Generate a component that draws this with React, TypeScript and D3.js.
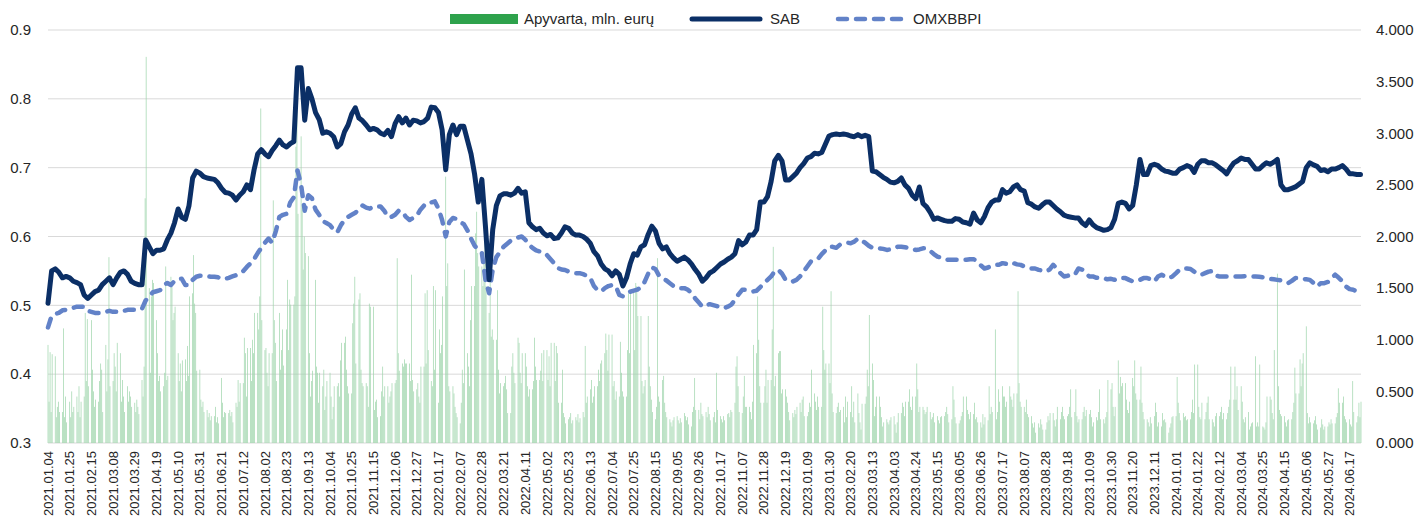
import React, { useEffect } from "react";
import * as d3 from "d3";

// Axis / calendar
const START = Date.UTC(2021, 0, 4);
const END = Date.UTC(2024, 5, 28);
const DAY = 86400000;
const tickStepDays = 21;
const leftTicks = [0.3, 0.4, 0.5, 0.6, 0.7, 0.8, 0.9];
const rightTicks = [0, 0.5, 1, 1.5, 2, 2.5, 3, 3.5, 4];

// SAB price, two readings per week (Mon, Thu), left axis
const sab = [
  0.503, 0.55, 0.553, 0.548, 0.54, 0.542, 0.54, 0.535, 0.533, 0.53, 0.515, 0.51, 0.515, 0.52, 0.522, 0.53, 0.535, 0.54, 0.53, 0.54,
  0.548, 0.55, 0.545, 0.535, 0.532, 0.53, 0.53, 0.595, 0.585, 0.575, 0.58, 0.58, 0.582, 0.595, 0.605, 0.62, 0.64, 0.628, 0.625, 0.645,
  0.685, 0.695, 0.692, 0.687, 0.685, 0.684, 0.683, 0.678, 0.67, 0.664, 0.663, 0.66, 0.653, 0.66, 0.665, 0.675, 0.668, 0.697, 0.72, 0.726,
  0.72, 0.716, 0.725, 0.732, 0.74, 0.733, 0.73, 0.735, 0.738, 0.845, 0.845, 0.769, 0.815, 0.8, 0.78, 0.77, 0.75, 0.752, 0.75, 0.745,
  0.73, 0.735, 0.752, 0.762, 0.778, 0.787, 0.772, 0.768, 0.762, 0.755, 0.757, 0.755, 0.75, 0.748, 0.754, 0.745, 0.764, 0.774, 0.765, 0.772,
  0.762, 0.769, 0.768, 0.765, 0.767, 0.772, 0.788, 0.787, 0.78, 0.755, 0.697, 0.748, 0.762, 0.748, 0.76, 0.76, 0.74, 0.72, 0.69, 0.65,
  0.683, 0.614, 0.537, 0.61, 0.645, 0.659, 0.662, 0.662, 0.66, 0.663, 0.67, 0.663, 0.665, 0.62, 0.614, 0.61, 0.612, 0.605, 0.601, 0.603,
  0.597, 0.598, 0.605, 0.614, 0.612, 0.605, 0.602, 0.602, 0.6, 0.596, 0.59, 0.578, 0.572, 0.56, 0.553, 0.55, 0.543, 0.55, 0.545, 0.528,
  0.54, 0.56, 0.575, 0.573, 0.585, 0.588, 0.603, 0.615, 0.608, 0.59, 0.582, 0.585, 0.575, 0.569, 0.564, 0.567, 0.57, 0.566, 0.56, 0.552,
  0.545, 0.535, 0.54, 0.547, 0.55, 0.555, 0.56, 0.563, 0.567, 0.57, 0.575, 0.594, 0.588, 0.592, 0.602, 0.602, 0.61, 0.65, 0.65, 0.658,
  0.68, 0.71, 0.718, 0.71, 0.682, 0.682, 0.687, 0.692, 0.7, 0.706, 0.714, 0.716, 0.721, 0.72, 0.722, 0.734, 0.746, 0.748, 0.749, 0.748,
  0.749, 0.748, 0.746, 0.745, 0.748, 0.745, 0.747, 0.745, 0.695, 0.694, 0.69, 0.686, 0.683, 0.679, 0.678, 0.68, 0.685, 0.675, 0.67, 0.66,
  0.655, 0.672, 0.648, 0.643, 0.635, 0.625, 0.627, 0.625, 0.623, 0.622, 0.622, 0.626, 0.625, 0.621, 0.62, 0.618, 0.634, 0.624, 0.62, 0.629,
  0.642, 0.65, 0.653, 0.653, 0.668, 0.663, 0.665, 0.672, 0.675, 0.668, 0.666, 0.649, 0.647, 0.643, 0.641, 0.646, 0.65, 0.65, 0.645, 0.64,
  0.636, 0.631, 0.629, 0.628, 0.627, 0.627, 0.62, 0.616, 0.624, 0.617, 0.613, 0.611, 0.609, 0.61, 0.613, 0.625, 0.648, 0.65, 0.648, 0.64,
  0.645, 0.675, 0.712, 0.69, 0.69, 0.703, 0.705, 0.703, 0.698, 0.695, 0.694, 0.692, 0.692, 0.698, 0.7, 0.703, 0.701, 0.693, 0.705, 0.71,
  0.71, 0.707, 0.707, 0.704, 0.7, 0.696, 0.691, 0.7, 0.707, 0.71, 0.714, 0.712, 0.712, 0.705, 0.698, 0.698, 0.703, 0.707, 0.705, 0.708,
  0.712, 0.675, 0.668, 0.668, 0.67, 0.672, 0.676, 0.68, 0.7, 0.707, 0.704, 0.702, 0.696, 0.697, 0.694, 0.698, 0.698, 0.7, 0.703, 0.698,
  0.691, 0.691, 0.69, 0.69,
];

// OMXBBPI, same dates, right axis units
const omx = [
  1.12, 1.23, 1.25, 1.26, 1.285, 1.29, 1.3, 1.31, 1.32, 1.32, 1.32, 1.28, 1.27, 1.26, 1.26, 1.26, 1.27, 1.28, 1.27, 1.27,
  1.27, 1.28, 1.29, 1.29, 1.29, 1.29, 1.3, 1.38, 1.42, 1.46, 1.47, 1.48, 1.53, 1.55, 1.53, 1.57, 1.59, 1.59, 1.53, 1.53,
  1.58, 1.61, 1.62, 1.62, 1.615, 1.61, 1.61, 1.605, 1.59, 1.59, 1.6, 1.613, 1.625, 1.645, 1.665, 1.705, 1.74, 1.78, 1.84, 1.89,
  1.94, 1.98, 1.94, 2.05, 2.19, 2.21, 2.22, 2.33, 2.38, 2.64, 2.5, 2.25, 2.4, 2.37, 2.26, 2.21, 2.15, 2.13, 2.11, 2.065,
  2.04, 2.11, 2.16, 2.19, 2.21, 2.23, 2.26, 2.3, 2.28, 2.27, 2.29, 2.29, 2.29, 2.25, 2.19, 2.19, 2.21, 2.25, 2.24, 2.19,
  2.16, 2.18, 2.2, 2.26, 2.3, 2.3, 2.33, 2.34, 2.27, 2.16, 2.0, 2.14, 2.18, 2.17, 2.14, 2.12, 2.06, 1.98, 1.91, 1.87,
  1.84, 1.58, 1.45, 1.68, 1.8, 1.85, 1.9, 1.93, 1.96, 1.975, 1.99, 2.0, 1.97, 1.92, 1.89, 1.865, 1.855, 1.845, 1.82, 1.78,
  1.74, 1.695, 1.68, 1.675, 1.66, 1.655, 1.645, 1.645, 1.635, 1.62, 1.597, 1.52, 1.48, 1.468, 1.5, 1.52, 1.53, 1.52, 1.435, 1.42,
  1.45, 1.465, 1.475, 1.485, 1.51, 1.56, 1.64, 1.7, 1.685, 1.62, 1.59, 1.575, 1.548, 1.52, 1.505, 1.5, 1.5, 1.484, 1.45, 1.4,
  1.36, 1.32, 1.33, 1.345, 1.335, 1.325, 1.32, 1.306, 1.32, 1.34, 1.387, 1.44, 1.484, 1.484, 1.475, 1.468, 1.475, 1.51, 1.548, 1.58,
  1.613, 1.665, 1.677, 1.64, 1.58, 1.57, 1.565, 1.58, 1.613, 1.66, 1.71, 1.758, 1.77, 1.785, 1.83, 1.865, 1.9, 1.9, 1.89, 1.92,
  1.93, 1.94, 1.935, 1.95, 1.98, 1.96, 1.94, 1.91, 1.89, 1.887, 1.885, 1.88, 1.87, 1.875, 1.885, 1.9, 1.9, 1.895, 1.89, 1.88,
  1.87, 1.875, 1.885, 1.885, 1.86, 1.83, 1.806, 1.795, 1.78, 1.774, 1.774, 1.774, 1.774, 1.774, 1.774, 1.78, 1.78, 1.76, 1.72, 1.69,
  1.7, 1.715, 1.726, 1.726, 1.742, 1.735, 1.726, 1.742, 1.73, 1.725, 1.71, 1.7, 1.69, 1.69, 1.677, 1.67, 1.66, 1.68, 1.726, 1.69,
  1.645, 1.613, 1.62, 1.63, 1.63, 1.69, 1.68, 1.645, 1.613, 1.613, 1.6, 1.597, 1.597, 1.585, 1.59, 1.58, 1.597, 1.597, 1.597, 1.58,
  1.565, 1.575, 1.58, 1.597, 1.597, 1.585, 1.565, 1.613, 1.63, 1.61, 1.597, 1.613, 1.645, 1.68, 1.69, 1.69, 1.685, 1.66, 1.635, 1.63,
  1.645, 1.66, 1.665, 1.62, 1.613, 1.613, 1.613, 1.613, 1.613, 1.613, 1.613, 1.615, 1.613, 1.613, 1.613, 1.61, 1.605, 1.597, 1.59, 1.585,
  1.58, 1.575, 1.565, 1.548, 1.57, 1.597, 1.597, 1.59, 1.585, 1.58, 1.55, 1.516, 1.548, 1.548, 1.56, 1.597, 1.63, 1.6, 1.565, 1.516,
  1.49, 1.484, 1.47, 1.468,
];

// Turnover per trading day (Mon..Fri), hundredths of mln EUR
const turnover = [
  95, 40, 88, 30, 86, 84, 25, 35, 40, 30, 30, 111, 25, 45, 20, 40, 25, 50, 30, 35,
  45, 30, 55, 25, 40, 45, 126, 60, 120, 55, 119, 71, 50, 35, 42, 40, 60, 77, 71, 30,
  95, 50, 81, 180, 55, 60, 87, 74, 50, 97, 87, 40, 61, 45, 30, 55, 40, 50, 45, 35,
  39, 30, 42, 35, 28, 61, 45, 74, 237, 374, 150, 68, 142, 158, 155, 119, 87, 60, 65, 50,
  55, 68, 171, 61, 65, 161, 151, 119, 126, 132, 87, 60, 77, 50, 80, 81, 60, 94, 65, 142,
  145, 182, 135, 126, 70, 71, 42, 35, 40, 30, 32, 25, 29, 22, 26, 26, 35, 20, 25, 19,
  63, 39, 25, 30, 29, 29, 32, 26, 30, 20, 39, 35, 61, 40, 58, 58, 102, 87, 45, 92,
  92, 60, 100, 87, 126, 126, 110, 142, 324, 119, 90, 92, 68, 55, 87, 87, 235, 119, 97, 60,
  126, 71, 90, 110, 75, 110, 158, 90, 139, 134, 134, 142, 287, 365, 222, 297, 229, 168, 200, 184,
  181, 87, 45, 60, 70, 158, 74, 68, 39, 68, 55, 71, 32, 45, 60, 68, 45, 23, 35, 55,
  55, 58, 45, 80, 97, 97, 103, 71, 55, 48, 48, 116, 135, 161, 77, 139, 145, 71, 58, 55,
  58, 55, 35, 135, 132, 132, 32, 40, 42, 25, 26, 50, 74, 45, 55, 55, 39, 45, 50, 58,
  58, 61, 179, 87, 70, 77, 74, 81, 77, 77, 77, 60, 163, 61, 50, 52, 58, 45, 39, 74,
  74, 145, 77, 148, 90, 60, 55, 152, 71, 148, 39, 110, 87, 95, 142, 258, 152, 174, 55, 50,
  55, 48, 35, 29, 25, 19, 39, 71, 58, 168, 87, 74, 55, 119, 152, 152, 203, 224, 184, 171,
  171, 152, 177, 197, 152, 126, 184, 103, 110, 100, 100, 148, 71, 48, 58, 55, 58, 65, 52, 29,
  29, 74, 87, 68, 58, 102, 97, 68, 58, 87, 87, 74, 55, 45, 52, 52, 60, 102, 74, 61,
  61, 70, 87, 60, 90, 90, 61, 84, 55, 97, 97, 60, 94, 87, 39, 39, 71, 29, 25, 19,
  23, 25, 29, 19, 22, 25, 22, 28, 20, 24, 30, 25, 94, 39, 45, 52, 61, 39, 45, 55,
  55, 71, 60, 77, 80, 87, 106, 90, 70, 105, 105, 55, 60, 42, 50, 45, 98, 68, 50, 45,
  45, 90, 145, 87, 148, 148, 90, 155, 152, 123, 123, 60, 48, 55, 61, 123, 74, 55, 42, 30,
  23, 35, 179, 45, 40, 61, 65, 39, 30, 25, 23, 20, 16, 22, 25, 26, 22, 19, 24, 20,
  29, 26, 22, 25, 18, 16, 30, 35, 63, 32, 32, 23, 39, 28, 26, 30, 25, 35, 28, 22,
  25, 30, 20, 68, 32, 26, 23, 20, 26, 22, 28, 29, 25, 32, 30, 39, 74, 84, 55, 30,
  29, 45, 65, 35, 35, 35, 30, 23, 40, 95, 87, 142, 100, 55, 39, 39, 55, 71, 39, 61,
  61, 110, 190, 55, 65, 87, 89, 89, 48, 52, 52, 45, 39, 30, 22, 29, 25, 32, 28, 35,
  39, 30, 42, 45, 26, 26, 30, 39, 35, 71, 48, 40, 32, 45, 35, 35, 132, 90, 71, 77,
  77, 58, 147, 48, 30, 29, 35, 39, 30, 32, 35, 20, 45, 25, 40, 30, 55, 25, 40, 20,
  48, 29, 20, 13, 38, 38, 45, 71, 55, 124, 77, 61, 26, 35, 45, 45, 35, 25, 16, 20,
  23, 20, 18, 22, 25, 26, 18, 10, 20, 29, 29, 39, 35, 26, 40, 40, 52, 35, 32, 45,
  45, 77, 52, 30, 35, 35, 32, 28, 30, 35, 30, 23, 25, 29, 20, 26, 22, 19, 25, 26,
  26, 30, 35, 28, 20, 23, 55, 42, 25, 19, 19, 22, 26, 30, 45, 45, 32, 28, 23, 30,
  28, 39, 23, 25, 20, 20, 15, 28, 18, 25, 22, 55, 28, 35, 30, 110, 23, 30, 52, 40,
  55, 45, 45, 35, 40, 55, 45, 42, 35, 48, 48, 147, 58, 40, 35, 35, 30, 42, 28, 25,
  26, 19, 15, 20, 10, 19, 15, 23, 18, 13, 13, 20, 26, 22, 29, 29, 22, 16, 23, 35,
  23, 30, 35, 26, 23, 26, 28, 35, 52, 25, 30, 52, 26, 20, 23, 23, 30, 35, 26, 32,
  28, 32, 25, 16, 20, 25, 22, 30, 52, 23, 23, 19, 25, 30, 61, 52, 58, 35, 26, 35,
  80, 48, 64, 55, 58, 58, 42, 32, 29, 40, 63, 55, 80, 48, 42, 42, 74, 39, 30, 23,
  23, 20, 16, 25, 19, 26, 39, 30, 16, 20, 16, 29, 22, 23, 20, 10, 15, 19, 25, 26,
  26, 64, 39, 29, 22, 29, 25, 26, 22, 23, 23, 30, 42, 29, 76, 76, 35, 25, 23, 39,
  23, 30, 39, 45, 23, 23, 20, 16, 26, 29, 26, 30, 35, 23, 29, 23, 29, 35, 42, 74,
  42, 74, 42, 55, 32, 55, 40, 23, 20, 25, 30, 13, 16, 19, 20, 84, 16, 20, 16, 76,
  16, 15, 13, 20, 45, 45, 42, 29, 23, 90, 164, 55, 32, 28, 26, 26, 20, 16, 22, 23,
  23, 30, 39, 73, 48, 48, 81, 55, 77, 87, 113, 29, 19, 25, 20, 19, 22, 26, 18, 13,
  15, 23, 18, 13, 16, 16, 20, 18, 23, 19, 19, 25, 29, 53, 39, 39, 45, 26, 23, 20,
  23, 18, 16, 60, 30, 20, 26, 39, 25, 40,
];

const FONT = "'Liberation Sans', Arial, sans-serif";

export default function App() {
  useEffect(() => {
    document.body.style.margin = "0";
  }, []);

  const W = 1417;
  const H = 518;
  const left = 48;
  const right = 1361;
  const top = 30;
  const bottom = 443;

  const x = d3.scaleUtc().domain([new Date(START), new Date(END)]).range([left, right]);
  const yL = d3.scaleLinear().domain([0.3, 0.9]).range([bottom, top]);
  const yR = d3.scaleLinear().domain([0, 4]).range([bottom, top]);

  const halfWeek = (i: number) => new Date(START + i * 3.5 * DAY);
  const weekday = (i: number) => new Date(START + (Math.floor(i / 5) * 7 + (i % 5)) * DAY);

  const sabLine = d3
    .line<number>()
    .x((_, i) => x(halfWeek(i)))
    .y((d) => yL(d));
  const omxLine = d3
    .line<number>()
    .x((_, i) => x(halfWeek(i)))
    .y((d) => yR(d));

  const ticks: Date[] = [];
  for (let t = START; t <= END; t += tickStepDays * DAY) ticks.push(new Date(t));
  const fmt = d3.utcFormat("%Y.%m.%d");

  const sabColor = "#0b2f66";
  const omxColor = "#6282c8";
  const barColor = "#9cd4aa";
  const legendGreen = "#2ea24c";
  const textColor = "#262626";

  return (
    <svg width={W} height={H} style={{ display: "block", background: "#fff" }} fontFamily={FONT}>
      {/* gridlines */}
      {leftTicks.map((t) => (
        <line key={t} x1={left} x2={right} y1={yL(t)} y2={yL(t)} stroke="#d9d9d9" strokeWidth={1} />
      ))}
      {/* bars */}
      <g fill={barColor}>
        {turnover.map((v, i) => {
          const cx = x(weekday(i));
          const y0 = yR(v / 100);
          return <rect key={i} x={cx - 0.35} y={y0} width={0.7} height={bottom - y0} />;
        })}
      </g>
      {/* OMXBBPI */}
      <path
        d={omxLine(omx) || ""}
        fill="none"
        stroke={omxColor}
        strokeWidth={4.5}
        strokeDasharray="9 9"
        strokeLinecap="round"
        strokeLinejoin="round"
      />
      {/* SAB */}
      <path d={sabLine(sab) || ""} fill="none" stroke={sabColor} strokeWidth={5} strokeLinejoin="round" strokeLinecap="round" />

      {/* left axis labels */}
      {leftTicks.map((t) => (
        <text key={t} x={31} y={yL(t)} dy="0.35em" textAnchor="end" fontSize={15} fill={textColor}>
          {t.toFixed(1)}
        </text>
      ))}
      {/* right axis labels */}
      {rightTicks.map((t) => (
        <text key={t} x={1376} y={yR(t)} dy="0.35em" textAnchor="start" fontSize={15} fill={textColor}>
          {t.toFixed(3)}
        </text>
      ))}
      {/* x axis labels */}
      {ticks.map((t) => (
        <text
          key={t.getTime()}
          transform={`translate(${x(t)},${451}) rotate(-90)`}
          dy="0.35em"
          textAnchor="end"
          fontSize={13}
          fill={textColor}
        >
          {fmt(t)}
        </text>
      ))}

      {/* legend */}
      <rect x={450} y={14} width={68} height={10} fill={legendGreen} />
      <text x={524} y={19} dy="0.35em" fontSize={15} fill={textColor}>
        Apyvarta, mln. eurų
      </text>
      <line x1={692} x2={760} y1={19} y2={19} stroke={sabColor} strokeWidth={5} strokeLinecap="round" />
      <text x={770} y={19} dy="0.35em" fontSize={15} fill={textColor}>
        SAB
      </text>
      <line
        x1={838}
        x2={904}
        y1={19}
        y2={19}
        stroke={omxColor}
        strokeWidth={4.5}
        strokeDasharray="9 9"
        strokeLinecap="round"
      />
      <text x={913} y={19} dy="0.35em" fontSize={15} fill={textColor}>
        OMXBBPI
      </text>
    </svg>
  );
}
